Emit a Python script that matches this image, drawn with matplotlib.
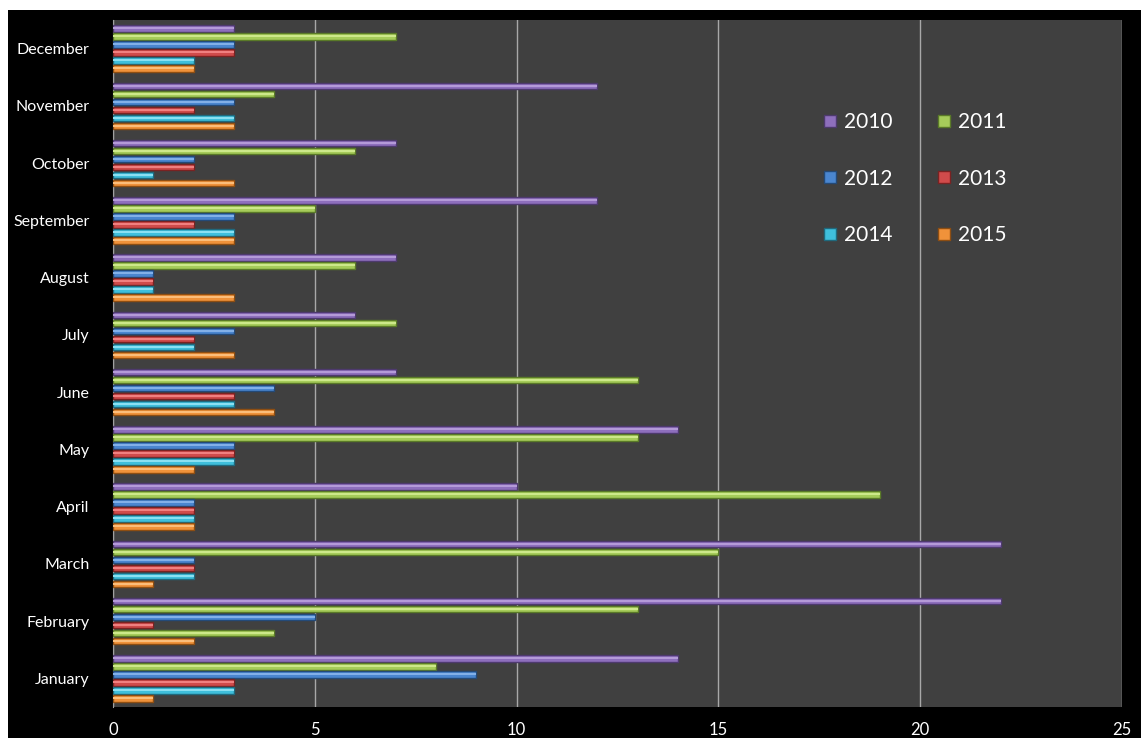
import matplotlib
matplotlib.use("Agg")
import matplotlib.pyplot as plt
from matplotlib.patches import Rectangle
from matplotlib.lines import Line2D
import numpy as np

plt.rcParams['font.family'] = ['Lato', 'DejaVu Sans']

months = ["January", "February", "March", "April", "May", "June",
          "July", "August", "September", "October", "November", "December"]
years = ["2010", "2011", "2012", "2013", "2014", "2015"]
s2010 = [14, 22, 22, 10, 14, 7, 6, 7, 12, 7, 12, 3]
s2011 = [8, 13, 15, 19, 13, 13, 7, 6, 5, 6, 4, 7]
s2012 = [9, 5, 2, 2, 3, 4, 3, 1, 3, 2, 3, 3]
s2013 = [3, 1, 2, 2, 3, 3, 2, 1, 2, 2, 2, 3]
s2014 = [3, 4, 2, 2, 3, 3, 2, 1, 3, 1, 3, 2]
s2015 = [1, 2, 1, 2, 2, 4, 3, 3, 3, 3, 3, 2]
series = [s2010, s2011, s2012, s2013, s2014, s2015]

face = ["#8e6fbd", "#a6cc5a", "#4a86d0", "#d04b4b", "#3fbfdc", "#f0923a"]
light = ["#b49ad8", "#cde88a", "#82b0e8", "#f08080", "#8ae0f2", "#fbbd7a"]
edge = ["#4e3a6e", "#5a7a28", "#244a78", "#7a2222", "#1f6a7e", "#8e4e12"]

fig = plt.figure(figsize=(11.41, 7.38), dpi=100, facecolor="white")
fig.patches.append(Rectangle((8 / 1141, 0), 1, (738 - 10) / 738,
                             transform=fig.transFigure, facecolor="black",
                             edgecolor="none", zorder=-10))
ax = fig.add_axes([113 / 1141, 31 / 738, (1122 - 113) / 1141, (707 - 20) / 738])
ax.set_facecolor("#404040")

y = np.arange(len(months))
step = 0.14
h = 0.115
for i, vals in enumerate(series):
    off = (2.5 - i) * step
    fc = [face[i]] * len(vals)
    lc = [light[i]] * len(vals)
    ec = [edge[i]] * len(vals)
    if i == 4:  # February 2014 bar is drawn in green in the source
        fc[1], lc[1], ec[1] = face[1], light[1], edge[1]
    ax.barh(y + off, vals, height=h, color=fc, edgecolor=ec, linewidth=1.0, zorder=3)
    ax.barh(y + off + 0.005, vals, height=h * 0.3, color=lc, linewidth=0, zorder=4)

ax.set_xlim(0, 25)
ax.set_ylim(-0.5, 11.5)
ax.set_xticks([0, 5, 10, 15, 20, 25])
ax.set_yticks(y)
ax.set_yticklabels(months)
ax.xaxis.grid(True, color="#a8a8a8", linewidth=1.0, zorder=1)
ax.set_axisbelow(True)
for s in ["top", "right", "bottom"]:
    ax.spines[s].set_visible(False)
ax.spines["left"].set_color("#a0a0a0")
ax.tick_params(axis="x", colors="white", labelsize=12, length=0, pad=11)
ax.tick_params(axis="y", colors="white", labelsize=11.5, length=0, pad=17)

handles = [Line2D([], [], marker="s", linestyle="none", markersize=8,
                  markerfacecolor=face[i], markeredgecolor=edge[i]) for i in range(6)]
# order so that ncol=2 gives rows: 2010 2011 / 2012 2013 / 2014 2015
order = [0, 2, 4, 1, 3, 5]
leg = ax.legend([handles[k] for k in order], [years[k] for k in order], ncol=2,
                frameon=False, loc="upper left", bbox_to_anchor=(0.686, 0.893),
                fontsize=15, labelcolor="white", labelspacing=1.75,
                handlelength=0.6, handletextpad=0.35, columnspacing=2.2)

fig.savefig("out.png", dpi=100, facecolor="white")
